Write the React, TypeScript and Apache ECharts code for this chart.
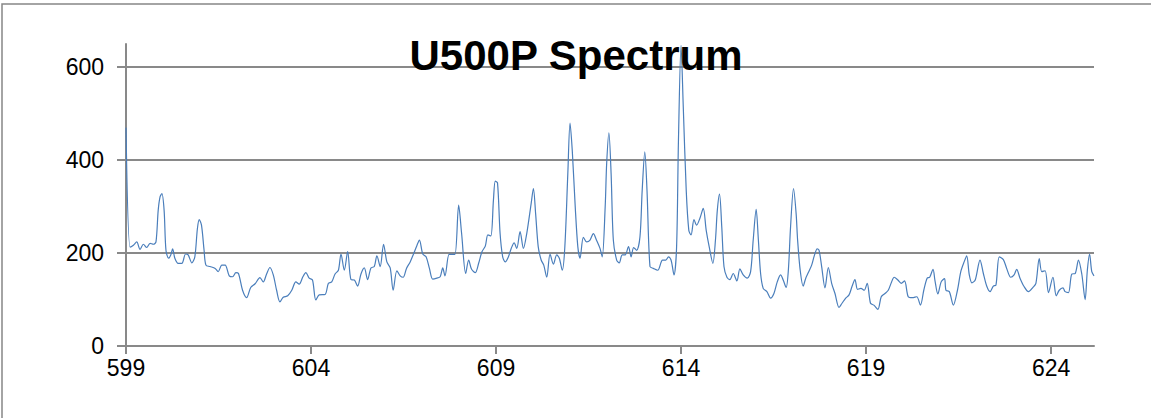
import React, { useEffect, useRef } from "react";
import * as echarts from "echarts";

const chartTitle = "U500P Spectrum";

const wavelength = [
  599.0, 599.11, 599.2, 599.29, 599.38, 599.47, 599.56, 599.65, 599.74, 599.81, 599.87, 599.92, 599.97,
  600.03, 600.08, 600.15, 600.21, 600.26, 600.32, 600.41, 600.51, 600.61, 600.68, 600.78, 600.86, 600.93, 600.98,
  601.04, 601.11, 601.16, 601.27, 601.41, 601.49, 601.59, 601.68, 601.79, 601.88, 601.97,
  602.04, 602.15, 602.26, 602.37, 602.49, 602.62, 602.71, 602.8, 602.89, 602.98,
  603.07, 603.16, 603.25, 603.37, 603.48, 603.59, 603.68, 603.78, 603.86, 603.95,
  604.04, 604.13, 604.22, 604.38, 604.47, 604.56, 604.65, 604.74, 604.81, 604.9, 604.99,
  605.08, 605.17, 605.26, 605.35, 605.44, 605.53, 605.62, 605.71, 605.78, 605.87, 605.96,
  606.05, 606.14, 606.22, 606.32, 606.41, 606.49, 606.58, 606.68, 606.76, 606.86, 606.93,
  607.02, 607.11, 607.2, 607.29, 607.4, 607.49, 607.56, 607.62, 607.73, 607.8, 607.89, 607.99,
  608.07, 608.18, 608.26, 608.34, 608.44, 608.53, 608.62, 608.71, 608.78, 608.86, 608.93, 608.98,
  609.04, 609.11, 609.18, 609.25, 609.33, 609.41, 609.49, 609.56, 609.65, 609.74, 609.83, 609.95,
  610.01, 610.07, 610.14, 610.22, 610.29, 610.37, 610.46, 610.55, 610.64, 610.71, 610.79, 610.86, 610.94,
  611.0, 611.06, 611.14, 611.21, 611.27, 611.36, 611.45, 611.54, 611.63, 611.72, 611.81, 611.87, 611.95, 611.99,
  612.05, 612.11, 612.17, 612.26, 612.33, 612.41, 612.49, 612.58, 612.65, 612.72, 612.8, 612.89, 612.95,
  613.02, 613.08, 613.16, 613.25, 613.37, 613.5, 613.59, 613.66, 613.73, 613.81, 613.88, 613.93,
  614.0, 614.06, 614.14, 614.21, 614.27, 614.35, 614.42, 614.51, 614.6, 614.68, 614.76, 614.86, 614.93, 614.98,
  615.04, 615.1, 615.16, 615.24, 615.32, 615.41, 615.51, 615.59, 615.68, 615.79, 615.88, 615.95,
  616.03, 616.09, 616.15, 616.22, 616.32, 616.42, 616.51, 616.6, 616.69, 616.76, 616.84, 616.9, 616.96,
  617.04, 617.11, 617.15, 617.22, 617.3, 617.37, 617.44, 617.53, 617.6, 617.68, 617.73, 617.8, 617.89, 617.98,
  618.07, 618.16, 618.27, 618.35, 618.45, 618.54, 618.62, 618.7, 618.77, 618.86, 618.95,
  619.03, 619.12, 619.21, 619.32, 619.41, 619.51, 619.6, 619.69, 619.76, 619.86, 619.95,
  620.04, 620.14, 620.25, 620.37, 620.47, 620.56, 620.65, 620.72, 620.81, 620.86, 620.94,
  621.03, 621.12, 621.16, 621.25, 621.36, 621.47, 621.56, 621.65, 621.72, 621.79, 621.86, 621.95,
  622.08, 622.17, 622.26, 622.35, 622.44, 622.51, 622.6, 622.71, 622.8, 622.91,
  623.0, 623.07, 623.16, 623.27, 623.39, 623.51, 623.59, 623.68, 623.75, 623.84, 623.93,
  624.05, 624.14, 624.22, 624.32, 624.38, 624.47, 624.56, 624.65, 624.74, 624.83, 624.92, 624.98,
  625.04, 625.1, 625.16,
];

const intensity = [
  470, 213, 217, 224, 208, 219, 212, 221, 219, 224, 292, 321, 328,
  292, 206, 189, 196, 209, 189, 178, 178, 198, 196, 179, 192, 253, 272,
  260, 206, 174, 171, 167, 160, 174, 174, 151, 149, 158,
  156, 120, 104, 126, 134, 147, 138, 155, 169, 153,
  120, 95, 105, 108, 120, 138, 133, 149, 158, 146,
  142, 99, 110, 111, 135, 138, 155, 163, 198, 163, 203,
  143, 142, 129, 155, 168, 143, 168, 171, 194, 171, 219,
  181, 168, 120, 162, 151, 148, 167, 181, 196, 216, 228,
  198, 192, 167, 144, 146, 149, 168, 151, 197, 197, 197, 303,
  242, 156, 185, 165, 158, 178, 203, 215, 239, 237, 314, 355,
  351, 242, 192, 181, 191, 210, 222, 210, 246, 210, 242, 307,
  339, 285, 214, 185, 174, 148, 198, 176, 196, 189, 163, 214, 371,
  480, 421, 300, 214, 189, 234, 224, 228, 242, 227, 210, 192, 300, 393,
  459, 371, 228, 185, 179, 196, 196, 214, 192, 212, 206, 235, 335,
  418, 335, 171, 167, 163, 185, 185, 192, 185, 153, 214, 443,
  647, 515, 335, 249, 239, 272, 260, 275, 296, 249, 214, 178, 228, 292,
  327, 257, 171, 148, 143, 156, 140, 166, 153, 146, 160, 228,
  294, 228, 156, 124, 117, 103, 113, 138, 153, 142, 126, 163, 257,
  339, 285, 228, 163, 129, 146, 158, 174, 194, 209, 206, 171, 125, 169,
  135, 113, 83, 92, 103, 110, 128, 143, 122, 124, 120,
  135, 92, 88, 79, 106, 113, 120, 138, 148, 142, 135,
  140, 106, 104, 106, 88, 120, 146, 148, 165, 142, 112,
  138, 145, 120, 117, 88, 120, 160, 181, 194, 153, 136, 142,
  185, 156, 129, 117, 129, 131, 192, 186, 167, 148,
  153, 165, 146, 128, 117, 126, 135, 188, 160, 162, 115,
  148, 108, 120, 125, 117, 115, 155, 156, 185, 155, 100, 163,
  198, 160, 151,
];

const xTickLabels = [599, 604, 609, 614, 619, 624];
const yTickLabels = [0, 200, 400, 600];

export default function App() {
  const ref = useRef<HTMLDivElement>(null);

  useEffect(() => {
    document.body.style.margin = "0";
    if (!ref.current) return;
    const chart = echarts.init(ref.current, null, { renderer: "svg" });
    const data = wavelength.map((w, i) => [w, intensity[i]]);
    const axisGray = "#898989";
    const font = "Liberation Sans";
    chart.setOption({
      animation: false,
      backgroundColor: "#ffffff",
      textStyle: { fontFamily: font },
      graphic: [
        {
          type: "rect",
          shape: { x: 2, y: 4, width: 1200, height: 500 },
          style: { fill: "none", stroke: "#868686", lineWidth: 1.5 },
          z: -10,
          silent: true,
        },
        {
          type: "text",
          x: 576,
          y: 55,
          z: 100,
          style: {
            text: chartTitle,
            fontFamily: font,
            fontWeight: "bold",
            fontSize: 42,
            fill: "#000000",
            textAlign: "center",
            textVerticalAlign: "middle",
          },
        },
      ],
      grid: { left: 126, right: 57, top: 44, bottom: 72, containLabel: false },
      xAxis: {
        type: "value",
        min: 599,
        max: 625.16,
        axisLine: { show: true, lineStyle: { color: axisGray, width: 2 } },
        axisTick: {
          show: true,
          inside: false,
          length: 8,
          customValues: xTickLabels,
          lineStyle: { color: axisGray, width: 2 },
        },
        axisLabel: {
          customValues: xTickLabels,
          fontFamily: font,
          fontSize: 23,
          color: "#000000",
          margin: 10,
        },
        splitLine: { show: false },
      },
      yAxis: {
        type: "value",
        min: 0,
        max: 650,
        axisLine: { show: true, lineStyle: { color: axisGray, width: 2 } },
        axisTick: {
          show: true,
          inside: false,
          length: 9,
          customValues: yTickLabels,
          lineStyle: { color: axisGray, width: 2 },
        },
        axisLabel: {
          customValues: yTickLabels,
          fontFamily: font,
          fontSize: 23,
          color: "#000000",
          margin: 22,
        },
        splitLine: { show: true, lineStyle: { color: axisGray, width: 2 } },
      },
      series: [
        {
          type: "line",
          data,
          smooth: 0.3,
          showSymbol: false,
          symbol: "none",
          lineStyle: { color: "#4A7EBB", width: 1.2 },
          z: 5,
        },
      ],
    });
    return () => chart.dispose();
  }, []);

  return <div ref={ref} style={{ width: 1151, height: 418 }} />;
}
